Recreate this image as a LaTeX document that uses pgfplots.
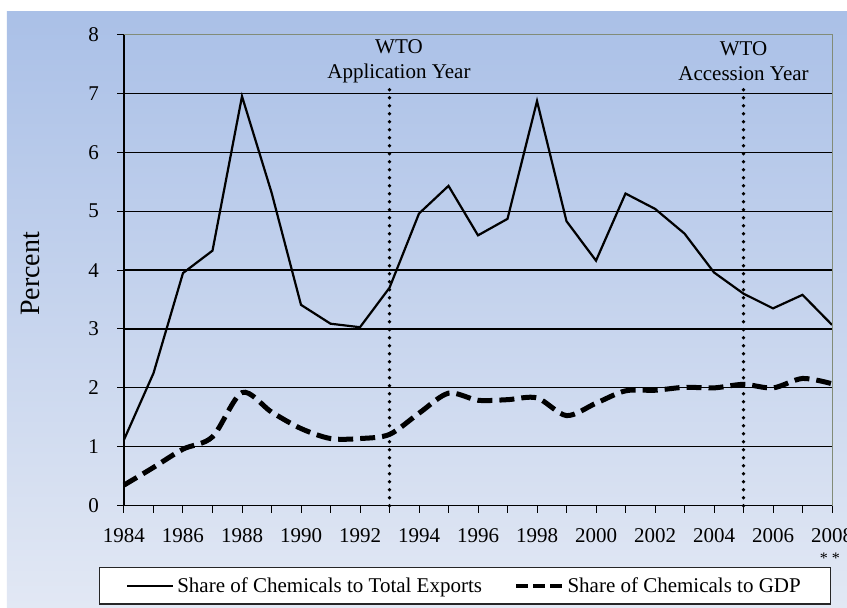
\documentclass[border=0pt]{standalone}
\usepackage{pgfplots}
\pgfplotsset{compat=1.18}
\usepackage{fontspec}
\setmainfont{Liberation Serif}

\definecolor{bgtop}{RGB}{170,192,231}
\definecolor{bgbot}{RGB}{226,232,244}
\definecolor{framegray}{RGB}{130,140,120}

\begin{document}
\begin{tikzpicture}[x=1bp,y=1bp]
% page background: white margin, blue gradient panel
\fill[white] (-124,-102.3) rectangle (723,505.7);
\shade[top color=bgtop, bottom color=bgbot] (-117,-102.3) rectangle (723,493.7);
\begin{axis}[
    at={(0,0)}, anchor=south west,
    scale only axis, width=708bp, height=471.2bp,
    xmin=1984, xmax=2008, ymin=0, ymax=8,
    axis x line*=bottom, axis y line*=left,
    axis line style={black, line width=1.3bp},
    tick style={black, line width=1bp},
    tick align=outside,
    major tick length=7bp, minor tick length=7bp,
    xtick={1984,1986,...,2008},
    minor xtick={1985,1987,...,2007},
    ytick={0,...,8},
    extra y ticks={1,...,7},
    extra y tick labels={},
    extra y tick style={grid=major, major tick length=0pt},
    grid style={black, line width=1.2bp},
    /pgf/number format/1000 sep={},
    /pgf/number format/assume math mode=true,
    tick label style={font=\fontsize{21bp}{25bp}\selectfont, inner sep=0pt},
    xticklabel style={anchor=base, yshift=-30bp},
    yticklabel style={anchor=east, xshift=-18bp},
    ylabel={Percent},
    ylabel style={at={(axis description cs:-0.1328,0.4917)}, anchor=center,
        font=\fontsize{28bp}{32bp}\selectfont},
    legend style={at={(0.4816,-0.170)}, anchor=center, legend columns=2,
        draw=black!85, fill=white, line width=1.2bp,
        font=\fontsize{21bp}{25bp}\selectfont,
        nodes={inner xsep=3bp, inner ysep=3bp},
        /tikz/every even column/.append style={column sep=29bp},
        inner xsep=27bp, inner ysep=7bp},
    legend image code/.code={\draw[#1] (0bp,0bp) -- (46bp,0bp);},
    extra description/.code={
        \draw[framegray, line width=0.8bp] (rel axis cs:0,1) -- (rel axis cs:1,1) -- (rel axis cs:1,0);
    },
    clip=false,
]
% Share of Chemicals to Total Exports
\addplot[black, line width=2.2bp] coordinates {
    (1984,1.12) (1985,2.25) (1986,3.95) (1987,4.33) (1988,6.95)
    (1989,5.32) (1990,3.41) (1991,3.09) (1992,3.03) (1993,3.70)
    (1994,4.96) (1995,5.43) (1996,4.59) (1997,4.87) (1998,6.87)
    (1999,4.83) (2000,4.16) (2001,5.30) (2002,5.04) (2003,4.62)
    (2004,3.96) (2005,3.60) (2006,3.35) (2007,3.58) (2008,3.07)
};
% Share of Chemicals to GDP
\addplot[black, line width=5bp, dash pattern=on 15bp off 7bp, smooth,
    legend image post style={dash pattern=on 12bp off 5bp, line width=4.5bp}] coordinates {
    (1984,0.35) (1985,0.65) (1986,0.96) (1987,1.17) (1988,1.92)
    (1989,1.59) (1990,1.31) (1991,1.14) (1992,1.14) (1993,1.21)
    (1994,1.57) (1995,1.91) (1996,1.79) (1997,1.80) (1998,1.83)
    (1999,1.53) (2000,1.74) (2001,1.95) (2002,1.96) (2003,2.01)
    (2004,2.00) (2005,2.06) (2006,2.00) (2007,2.16) (2008,2.07)
};
\legend{Share of Chemicals to Total Exports, Share of Chemicals to GDP}
% WTO markers
\addplot[forget plot, black, line width=3.8bp, dash pattern=on 0bp off 8bp, line cap=round]
    coordinates {(1993,0) (1993,7.07)};
\addplot[forget plot, black, line width=3.8bp, dash pattern=on 0bp off 8bp, line cap=round]
    coordinates {(2005,0) (2005,7.07)};
\node[align=center, font=\fontsize{21bp}{25bp}\selectfont] at (axis cs:1993.32,7.55) {WTO\\Application Year};
\node[align=center, font=\fontsize{21bp}{25bp}\selectfont] at (axis cs:2005,7.55) {WTO\\Accession Year};
\node[font=\fontsize{16bp}{18bp}\selectfont] at (axis cs:2007.93,-0.89) {* *};
\end{axis}
\pgfresetboundingbox
\useasboundingbox (-124,-102.3) rectangle (723,505.7);
\end{tikzpicture}
\end{document}
